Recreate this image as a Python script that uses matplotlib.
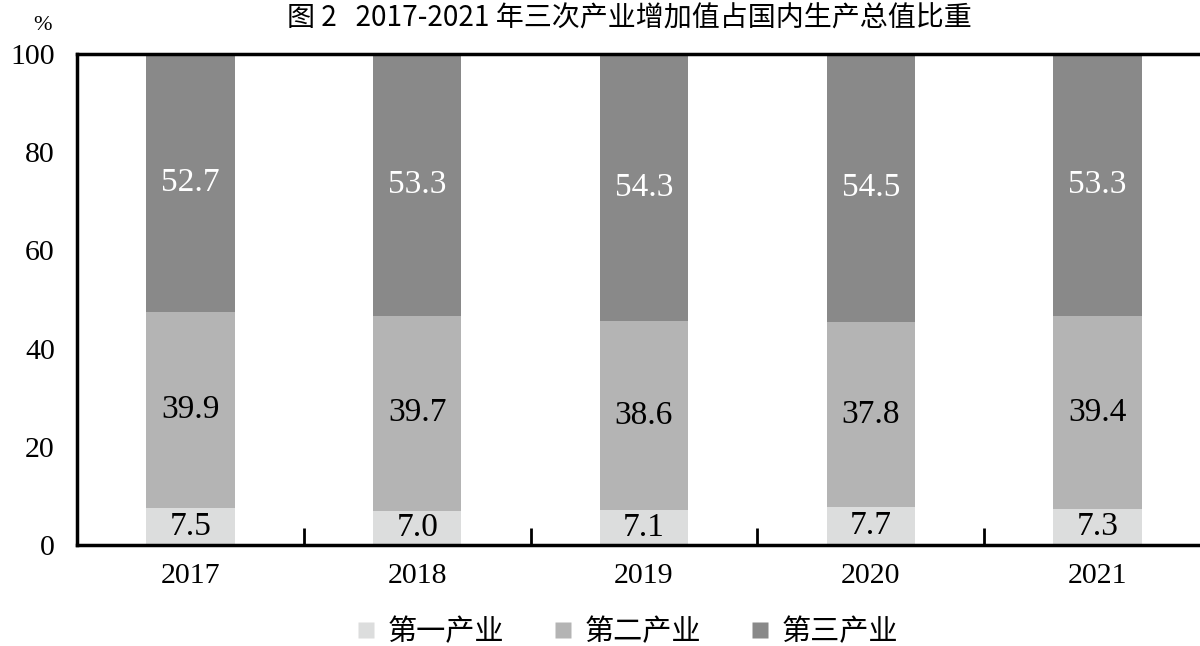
import matplotlib
matplotlib.use("Agg")
import matplotlib.pyplot as plt
from matplotlib.lines import Line2D

years = ["2017", "2018", "2019", "2020", "2021"]
primary = [7.5, 7.0, 7.1, 7.7, 7.3]
secondary = [39.9, 39.7, 38.6, 37.8, 39.4]
tertiary = [52.7, 53.3, 54.3, 54.5, 53.3]
series_names = ["第一产业", "第二产业", "第三产业"]
colors = ["#dcdddd", "#b4b4b4", "#898989"]
label_colors = ["black", "black", "white"]
yticks = [0, 20, 40, 60, 80, 100]
title = "图 2   2017-2021 年三次产业增加值占国内生产总值比重"

SERIF = ["Liberation Serif", "DejaVu Serif"]
CJK = ["Noto Sans CJK SC", "DejaVu Sans"]

fig = plt.figure(figsize=(12, 6.46), dpi=100)
ax = fig.add_axes([77/1200, 101/646, (1211-77)/1200, 491/646])

x = list(range(len(years)))
bottoms = [0.0] * len(years)
for vals, c, lc in zip([primary, secondary, tertiary], colors, label_colors):
    ax.bar(x, vals, width=0.39, bottom=bottoms, color=c, edgecolor="none", zorder=2)
    for xi, v, b in zip(x, vals, bottoms):
        ax.text(xi, b + v / 2, f"{v:.1f}", ha="center", va="center",
                color=lc, fontsize=24, family=SERIF, zorder=3)
    bottoms = [b + v for b, v in zip(bottoms, vals)]

ax.set_xlim(-0.5, len(years) - 0.5)
ax.set_ylim(0, 100)
ax.set_yticks(yticks)
ax.set_yticklabels([str(t) for t in yticks], family=SERIF, fontsize=21.5)
ax.set_xticks(x)
ax.set_xticklabels(years, family=SERIF, fontsize=21.5)
ax.tick_params(axis="y", length=0, pad=16)
ax.tick_params(axis="x", which="major", length=0, pad=13)
ax.set_xticks([i + 0.5 for i in x[:-1]], minor=True)
ax.tick_params(axis="x", which="minor", direction="in", length=12, width=2, color="black")

for side in ["left", "bottom", "top"]:
    ax.spines[side].set_linewidth(2.5)
    ax.spines[side].set_color("black")
ax.spines["right"].set_visible(False)

fig.text(43/1200, 1 - 25/646, "%", ha="center", va="center", fontsize=16, family=SERIF)
fig.text(629/1200, 1 - 19/646, title, ha="center", va="center", fontsize=20.2, family=CJK)

handles = [Line2D([], [], marker="s", linestyle="none", markersize=11,
                  markerfacecolor=c, markeredgecolor="none") for c in colors]
leg = fig.legend(handles, series_names, loc="center", bbox_to_anchor=(627/1200, 1 - 632/646),
                 ncol=3, frameon=False, prop={"family": CJK, "size": 21},
                 handlelength=0.7, handletextpad=0.4, columnspacing=1.65,
                 borderaxespad=0, borderpad=0)

fig.savefig("out.png", dpi=100)
